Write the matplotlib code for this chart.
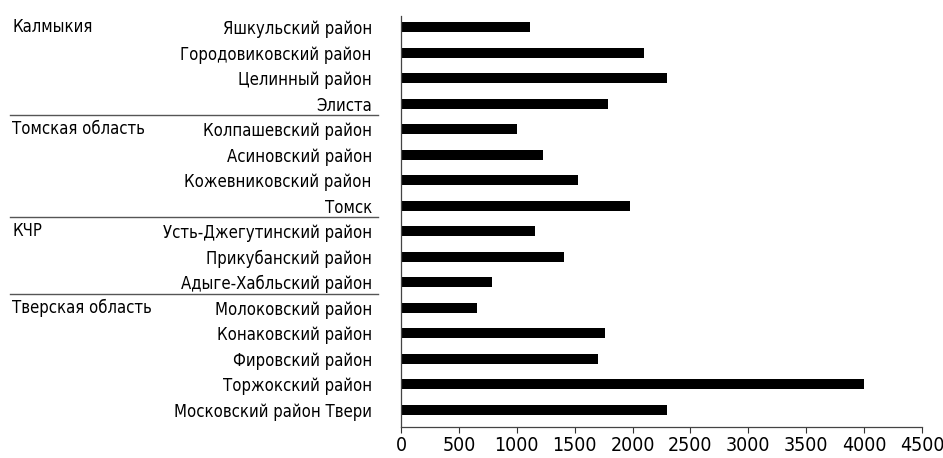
import matplotlib
matplotlib.use("Agg")
import matplotlib.pyplot as plt
from matplotlib.transforms import blended_transform_factory

plt.rcParams['font.family'] = ['DejaVu Sans']
plt.rcParams['font.stretch'] = 'condensed'

# districts top to bottom, with values
districts = [
    "Яшкульский район", "Городовиковский район", "Целинный район", "Элиста",
    "Колпашевский район", "Асиновский район", "Кожевниковский район", "Томск",
    "Усть-Джегутинский район", "Прикубанский район", "Адыге-Хабльский район",
    "Молоковский район", "Конаковский район", "Фировский район",
    "Торжокский район", "Московский район Твери",
]
values = [1110, 2100, 2300, 1790, 1000, 1230, 1530, 1980,
          1160, 1410, 790, 660, 1760, 1700, 4000, 2300]

regions = ["Калмыкия", "Томская область", "КЧР", "Тверская область"]
region_start = [0, 4, 8, 11]  # index of first district in each region

xticks = [0, 500, 1000, 1500, 2000, 2500, 3000, 3500, 4000, 4500]

n = len(districts)
ypos = [n - 1 - i for i in range(n)]

fig = plt.figure(figsize=(9.43, 4.58), dpi=100)
ax = fig.add_axes([401 / 943, 0.0683, 521 / 943, 0.8967])

ax.barh(ypos, values, height=0.4, color="black")
ax.set_xlim(0, 4500)
ax.set_ylim(-0.667, n - 1 + 0.443)

ax.set_yticks(ypos)
ax.set_yticklabels(districts, fontsize=12)
ax.tick_params(axis="y", length=0, pad=21)
ax.set_xticks(xticks)
ax.set_xticklabels([str(t) for t in xticks], fontsize=14)
ax.tick_params(axis="x", length=4.5, width=0.8, color="#333333", pad=2)

for s in ["top", "right"]:
    ax.spines[s].set_visible(False)
for s in ["left", "bottom"]:
    ax.spines[s].set_color("#444444")
    ax.spines[s].set_linewidth(0.9)

# region names on the left and thin separators between the groups
trans = blended_transform_factory(fig.transFigure, ax.transData)
for name, start in zip(regions, region_start):
    fig.text(12 / 943, ypos[start], name, transform=trans, fontsize=12,
             ha="left", va="center")
    if start > 0:
        y = ypos[start] + 0.55
        ax.plot([10 / 943, 378 / 943], [y, y], transform=trans, color="#555555",
                lw=1.0, clip_on=False)

fig.savefig("out.png", dpi=100)
